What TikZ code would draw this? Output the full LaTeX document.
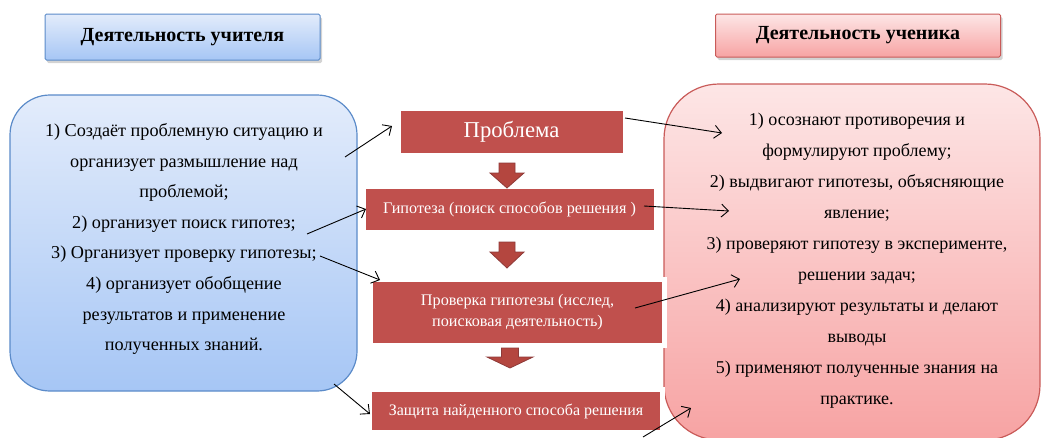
\documentclass[tikz,border=0pt]{standalone}
\usepackage{fontspec}
\setmainfont{Liberation Serif}
\usetikzlibrary{arrows.meta,shadows}
\definecolor{boxred}{HTML}{C0504D}
\definecolor{arrfill}{HTML}{B4463F}
\definecolor{arrline}{HTML}{8E3A38}
\definecolor{blueline}{HTML}{5B8BC9}
\definecolor{redline}{HTML}{C95B59}
\definecolor{bluetop}{HTML}{E3ECFB}
\definecolor{bluebot}{HTML}{A6C6F5}
\definecolor{pinktop}{HTML}{FDE6E6}
\definecolor{pinkbot}{HTML}{F7A3A3}
\begin{document}
\begin{tikzpicture}[x=1pt,y=-1pt,
  hdr/.style={rounded corners=1.5pt, line width=1pt, minimum height=#1, inner sep=0pt,
    font=\fontsize{20}{22}\selectfont\bfseries,
    drop shadow={shadow xshift=2pt, shadow yshift=-3pt, opacity=.35}},
  bluehdr/.style={hdr=46pt, draw=blueline, top color=bluetop, bottom color=bluebot},
  redhdr/.style={hdr=43pt, draw=redline, top color=pinktop, bottom color=pinkbot},
  bigbox/.style={line width=1.2pt, inner sep=0pt},
  stage/.style={fill=boxred, draw=white, line width=5pt, inner sep=0pt, text=white,
    align=center, drop shadow={shadow xshift=1.5pt, shadow yshift=-2pt, opacity=.3}},
  conn/.style={draw=black, line width=0.9pt, -{Straight Barb[length=7pt,width=13pt,line width=0.9pt]}},
  pics/downarr/.style n args={4}{code={
    \filldraw[fill=arrfill, draw=arrline, line width=0.8pt]
      (-#4,0) -- (#4,0) -- (#4,#1) -- (#2,#1) -- (0,#3) -- (-#2,#1) -- (-#4,#1) -- cycle;}}
]
\useasboundingbox (0,0) rectangle (1045,437);

% headers
\node[bluehdr, minimum width=275pt] (lhead) at (182.5,37) {Деятельность учителя};
\node[redhdr, minimum width=285pt] (rhead) at (858,35.5) {Деятельность ученика};

% big side boxes
\node[bigbox, draw=blueline, top color=bluetop, bottom color=bluebot,
  rounded corners=40pt, minimum width=347pt, minimum height=296pt] (lbox) at (183.5,243) {};
\node[align=center, font=\fontsize{18.2}{30.6}\selectfont] (ltext) at (184,239)
  {1) Создаёт проблемную ситуацию и\\ организует размышление над\\ проблемой;\\
   2) организует поиск гипотез;\\ 3) Организует проверку гипотезы;\\
   4) организует обобщение\\ результатов и применение\\ полученных знаний.};

\node[bigbox, draw=redline, top color=pinktop, bottom color=pinkbot,
  rounded corners=55pt, minimum width=376pt, minimum height=356pt] (rbox) at (852,262) {};
\node[align=center, font=\fontsize{18}{31}\selectfont] (rtext) at (857,261)
  {1) осознают противоречия и\\ формулируют проблему;\\
   2) выдвигают гипотезы, объясняющие\\ явление;\\
   3) проверяют гипотезу в эксперименте,\\ решении задач;\\
   4) анализируют результаты и делают\\ выводы\\
   5) применяют полученные знания на\\ практике.};

% centre stages
\node[stage, minimum width=227pt, minimum height=47pt, font=\fontsize{22.7}{24}\selectfont]
  (prob) at (511.5,131.5) {Проблема};
\node[stage, minimum width=293pt, minimum height=46pt, font=\fontsize{16.2}{18}\selectfont]
  (hyp) at (509.5,209.5) {Гипотеза (поиск способов решения )};
\node[stage, minimum width=294pt, minimum height=66pt, font=\fontsize{16.2}{21}\selectfont]
  (check) at (517.5,312.5) {Проверка гипотезы (исслед,\\ поисковая деятельность)};
\node[stage, minimum width=293pt, minimum height=43pt, font=\fontsize{16}{18}\selectfont]
  (def) at (516,411) {Защита найденного способа решения};

% block arrows
\pic (a1) at (507,163) {downarr={10}{17}{25}{8}};
\pic (a2) at (507,242) {downarr={10}{17}{26}{8}};
\pic (a3) at (510,348) {downarr={9}{23}{20}{8.5}};

% connectors
\coordinate (s1) at (345,157); \coordinate (e1) at (392,126);
\coordinate (s2) at (307,234); \coordinate (e2) at (366,209);
\coordinate (s3) at (320,256); \coordinate (e3) at (380,280);
\coordinate (s4) at (334,384); \coordinate (e4) at (370,414);
\coordinate (s5) at (625,118); \coordinate (e5) at (722,133);
\coordinate (s6) at (644,206); \coordinate (e6) at (729,211);
\coordinate (s7) at (635,308); \coordinate (e7) at (740,279);
\coordinate (s8) at (643,437); \coordinate (e8) at (691,408);
\foreach \i in {1,...,8} \draw[conn] (s\i) -- (e\i);
\end{tikzpicture}
\end{document}
